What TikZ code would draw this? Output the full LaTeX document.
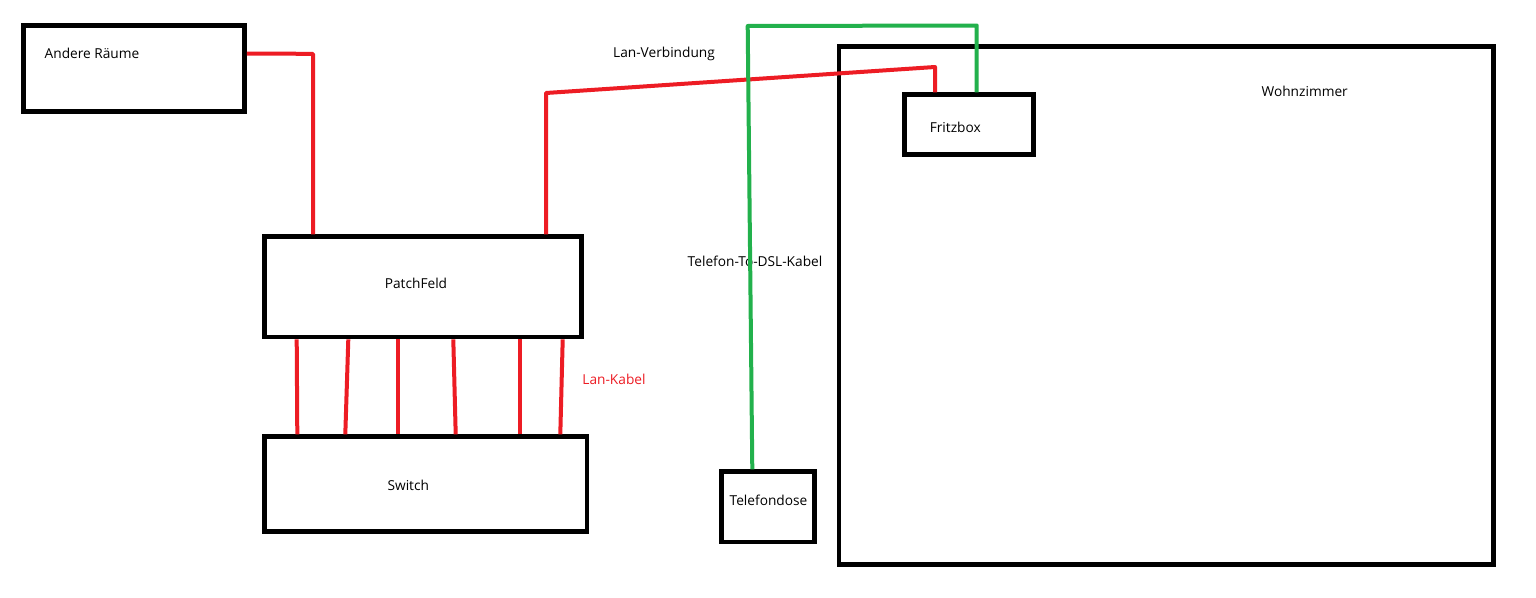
\documentclass[tikz,border=0pt]{standalone}
\usepackage{fontspec}
\setmainfont{Open Sans}
\definecolor{pred}{HTML}{ED1C24}
\definecolor{pgreen}{HTML}{22B14C}
\begin{document}
\begin{tikzpicture}[x=1pt,y=-1pt,
  box/.style={draw=black, line width=4.7pt, inner sep=0pt},
  lbl/.style={anchor=base, inner sep=0pt, font=\fontsize{13.7}{16}\selectfont},
  redline/.style={draw=pred, line width=4pt, line join=round},
  greenline/.style={draw=pgreen, line width=4pt, line join=round}]
\useasboundingbox[fill=white] (0,0) rectangle (1536,597);
% boxes
\node[box, minimum width=221pt, minimum height=86pt] (ar) at (134,68.5) {};
\node[box, minimum width=317pt, minimum height=100.3pt] (pf) at (423.2,286.85) {};
\node[box, minimum width=322.3pt, minimum height=94.6pt] (sw) at (425.85,484) {};
\node[box, minimum width=92.6pt, minimum height=70.3pt] (td) at (768,506.85) {};
\node[box, minimum width=654.6pt, minimum height=517.6pt] (wz) at (1166.3,305.5) {};
\node[box, minimum width=129pt, minimum height=59.6pt] (fb) at (969.2,124.5) {};
% labels
\node[lbl] (tar) at (92,58) {Andere Räume};
\node[lbl] (tpf) at (416,288) {PatchFeld};
\node[lbl] (tsw) at (408.3,490) {Switch};
\node[lbl] (tfb) at (955.3,132) {Fritzbox};
\node[lbl] (twz) at (1304.7,96.7) {Wohnzimmer};
\node[lbl] (ttd) at (768.5,505) {Telefondose};
\node[lbl] (tlv) at (664,57) {Lan-Verbindung};
\node[lbl] (tdsl) at (755,266) {Telefon-To-DSL-Kabel};
\node[lbl, text=pred] (tlk) at (614,384) {Lan-Kabel};
% red connectors
\draw[redline] (ar.east |- 0,53.5) -- (279,53.5) -- (313,54) -- (313,0 |- pf.north);
\draw[redline] (546,0 |- pf.north) -- (546,93) -- (935,67) -- (935,0 |- fb.north);
\draw[redline] (296.7,0 |- pf.south) -- (297.3,0 |- sw.north);
\draw[redline] (348.3,0 |- pf.south) -- (345.3,0 |- sw.north);
\draw[redline] (398.3,0 |- pf.south) -- (398.3,0 |- sw.north);
\draw[redline] (453.3,0 |- pf.south) -- (455.7,0 |- sw.north);
\draw[redline] (520.3,0 |- pf.south) -- (520.3,0 |- sw.north);
\draw[redline] (562.7,0 |- pf.south) -- (560.3,0 |- sw.north);
% green connector
\draw[greenline] (752.3,0 |- td.north) -- (747.7,26) -- (976.7,25.5) -- (976.7,0 |- fb.north);
\end{tikzpicture}
\end{document}
